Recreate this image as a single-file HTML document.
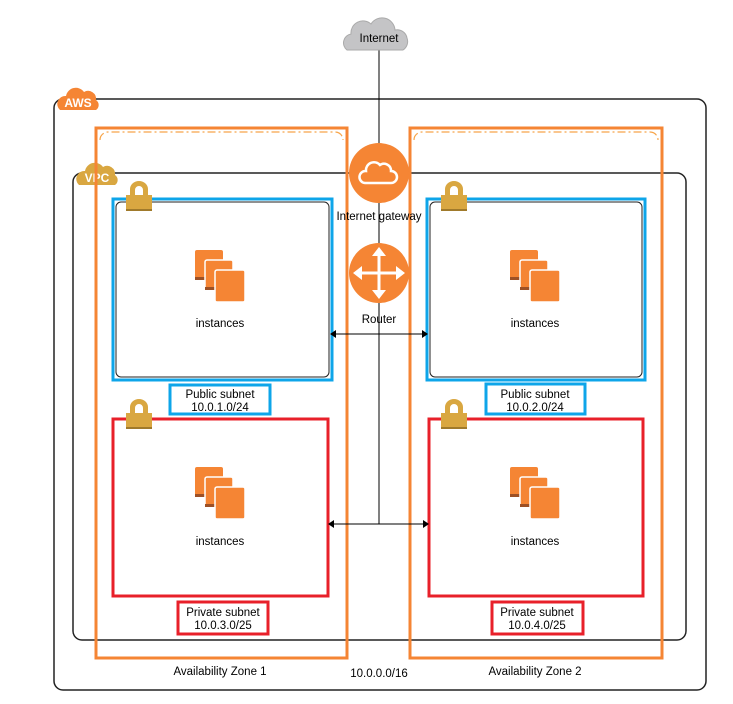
<!DOCTYPE html>
<html><head><meta charset="utf-8"><style>
body{margin:0;background:#fff;}
svg text{font-family:"Liberation Sans",Arial,sans-serif;font-size:11.5px;fill:#000;}
</style></head><body>
<svg width="733" height="699" viewBox="0 0 733 699" xmlns="http://www.w3.org/2000/svg">
<defs>
<g id="inst">
<rect x="-25" y="-28" width="28" height="30" rx="2" fill="#f58534"/>
<rect x="-25" y="-1" width="28" height="3" fill="#9d5025"/>
<rect x="-15" y="-18" width="28" height="30" rx="2" fill="#f58534" stroke="#fff" stroke-width="1.5"/>
<rect x="-15" y="9" width="28" height="3" fill="#9d5025"/>
<rect x="-5" y="-8" width="30" height="32" rx="2" fill="#f58534" stroke="#fff" stroke-width="1.5"/>
</g>
<g id="lock">
<path d="M-9,0 v-6 a9,8 0 0 1 18,0 v6 h-5 v-5 a4,4 0 0 0 -8,0 v5z" fill="#d9a741"/>
<rect x="-13" y="0" width="26" height="16" fill="#d9a741"/>
<rect x="-13" y="14" width="26" height="2" fill="#a07a2b"/>
</g>
</defs>
<rect x="54" y="99" width="652" height="591" rx="9" fill="none" stroke="#222" stroke-width="1.5"/>
<rect x="73" y="173" width="613" height="467" rx="9" fill="none" stroke="#222" stroke-width="1.5"/>
<g><path d="M60,110 a8,8 0 0 1 6,-14 a10,10 0 0 1 18,-4 a8,8 0 0 1 12,8 a6,6 0 0 1 0,10z" fill="#f58534"/><text x="78" y="107" text-anchor="middle" style="fill:#fff;font-size:12px;font-weight:bold">AWS</text></g>
<g><path d="M79,185 a8,8 0 0 1 6,-14 a10,10 0 0 1 18,-4 a8,8 0 0 1 12,8 a6,6 0 0 1 0,10z" fill="#d9a741"/><text x="97" y="182" text-anchor="middle" style="fill:#fff;font-size:12px;font-weight:bold">VPC</text></g>
<rect x="96" y="128" width="251" height="530" fill="none" stroke="#f58534" stroke-width="3"/>
<path d="M100,140 a8,8 0 0 1 8,-8 h227 a8,8 0 0 1 8,8" fill="none" stroke="#f7a54a" stroke-width="1.2" stroke-dasharray="8,3,2,3"/>
<rect x="410" y="128" width="252" height="530" fill="none" stroke="#f58534" stroke-width="3"/>
<path d="M414,140 a8,8 0 0 1 8,-8 h228 a8,8 0 0 1 8,8" fill="none" stroke="#f7a54a" stroke-width="1.2" stroke-dasharray="8,3,2,3"/>
<rect x="113" y="199" width="219" height="181" fill="none" stroke="#0ea5e9" stroke-width="3"/>
<rect x="116" y="202" width="213" height="175" rx="5" fill="none" stroke="#222" stroke-width="1"/>
<rect x="427" y="199" width="218" height="181" fill="none" stroke="#0ea5e9" stroke-width="3"/>
<rect x="430" y="202" width="212" height="175" rx="5" fill="none" stroke="#222" stroke-width="1"/>
<rect x="113" y="419" width="215" height="177" fill="none" stroke="#e8202a" stroke-width="3"/>
<rect x="429" y="419" width="214" height="177" fill="none" stroke="#e8202a" stroke-width="3"/>
<use href="#lock" x="139" y="195"/><use href="#lock" x="454" y="195"/>
<use href="#lock" x="139" y="413"/><use href="#lock" x="454" y="413"/>
<use href="#inst" x="220" y="278"/><use href="#inst" x="535" y="278"/>
<use href="#inst" x="220" y="495"/><use href="#inst" x="535" y="495"/>
<text x="220" y="327" text-anchor="middle">instances</text>
<text x="535" y="327" text-anchor="middle">instances</text>
<text x="220" y="545" text-anchor="middle">instances</text>
<text x="535" y="545" text-anchor="middle">instances</text>
<rect x="170" y="385" width="100" height="29" fill="#fff" stroke="#0ea5e9" stroke-width="3"/>
<text x="220" y="398" text-anchor="middle">Public subnet</text><text x="220" y="411" text-anchor="middle">10.0.1.0/24</text>
<rect x="486" y="384" width="99" height="30" fill="#fff" stroke="#0ea5e9" stroke-width="3"/>
<text x="535" y="398" text-anchor="middle">Public subnet</text><text x="535" y="411" text-anchor="middle">10.0.2.0/24</text>
<rect x="178" y="602" width="90" height="32" fill="#fff" stroke="#e8202a" stroke-width="3"/>
<text x="223" y="616" text-anchor="middle">Private subnet</text><text x="223" y="629" text-anchor="middle">10.0.3.0/25</text>
<rect x="492" y="602" width="91" height="32" fill="#fff" stroke="#e8202a" stroke-width="3"/>
<text x="537" y="616" text-anchor="middle">Private subnet</text><text x="537" y="629" text-anchor="middle">10.0.4.0/25</text>
<line x1="379" y1="50" x2="379" y2="524" stroke="#000" stroke-width="1"/>
<line x1="334" y1="334" x2="424" y2="334" stroke="#000"/>
<path d="M330,334 l6,-4 v8z M428,334 l-6,-4 v8z" fill="#000"/>
<line x1="332" y1="524" x2="425" y2="524" stroke="#000"/>
<path d="M328,524 l6,-4 v8z M429,524 l-6,-4 v8z" fill="#000"/>
<path d="M347,50 a9,9 0 0 1 4,-16 a12,12 0 0 1 20,-10 a13,13 0 0 1 24,6 a10,10 0 0 1 12,8 a10,10 0 0 1 -4,12z" fill="#c4c4c6" stroke="#aaa" stroke-width="1"/>
<text x="379" y="42" text-anchor="middle">Internet</text>
<circle cx="379" cy="173" r="30" fill="#f58534"/>
<path d="M365,183 a6,6 0 0 1 1,-12 a8,8 0 0 1 14,-6 a7,7 0 0 1 11,6 a6,6 0 0 1 0,12z" fill="none" stroke="#fff" stroke-width="2.5"/>
<text x="379" y="220" text-anchor="middle">Internet gateway</text>
<circle cx="379" cy="273" r="30" fill="#f58534"/>
<g fill="#fff" stroke="#fff" stroke-width="3"><line x1="379" y1="252" x2="379" y2="294"/><line x1="358" y1="273" x2="400" y2="273"/></g>
<path d="M379,247 l-7,9 h14z M379,299 l-7,-9 h14z M353,273 l9,-7 v14z M405,273 l-9,-7 v14z" fill="#fff"/>
<text x="379" y="323" text-anchor="middle">Router</text>
<text x="220" y="675" text-anchor="middle">Availability Zone 1</text>
<text x="379" y="677" text-anchor="middle">10.0.0.0/16</text>
<text x="535" y="675" text-anchor="middle">Availability Zone 2</text>
</svg>
</body></html>
